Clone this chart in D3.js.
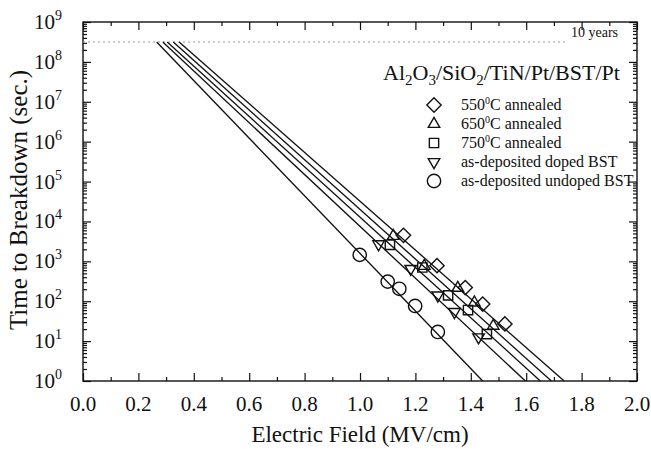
<!DOCTYPE html>
<meta charset="utf-8">
<style>
  body { margin: 0; background: #fff; }
  .axis path, .axis line { stroke: #111; stroke-width: 1.2; }
  .fit { fill: none; stroke: #111; stroke-width: 1.35; }
  .mark { fill: none; stroke: #111; stroke-width: 1.4; }
</style>
<body>
<svg id="chart" width="651" height="449" font-family="'Liberation Serif', 'Times New Roman', Tinos, Times, serif"></svg>
<script src="https://d3js.org/d3.v7.min.js"></script>
<script>

  // field values (MV/cm) and time to breakdown (sec.)
  const seriesNames = ['550', '650', '750', 'doped', 'undoped'];
  const legendLabels = ['550°C annealed', '650°C annealed', '750°C annealed', 'as-deposited doped BST', 'as-deposited undoped BST'];

  const field550 = [1.157, 1.278, 1.380, 1.443, 1.523];
  const time550 = [4500, 780, 220, 85, 27];
  const field650 = [1.120, 1.232, 1.353, 1.413, 1.481];
  const time650 = [4300, 760, 215, 92, 24];
  const field750 = [1.108, 1.225, 1.318, 1.390, 1.458];
  const time750 = [2600, 700, 140, 60, 15];
  const fieldDoped = [1.067, 1.183, 1.281, 1.341, 1.428];
  const timeDoped = [2700, 650, 140, 54, 12.5];
  const fieldUndoped = [0.999, 1.100, 1.142, 1.199, 1.281];
  const timeUndoped = [1450, 310, 205, 76, 17];

  // fitted lines: field where each one meets 10 years, and 1 second
  const fitField10y = [0.347, 0.326, 0.304, 0.288, 0.266];
  const fitField1s = [1.737, 1.691, 1.651, 1.597, 1.443];
  const tenYears = 3.1536e8;

  const xTicks = [0, 0.2, 0.4, 0.6, 0.8, 1.0, 1.2, 1.4, 1.6, 1.8, 2.0];
  const yExponents = [0, 1, 2, 3, 4, 5, 6, 7, 8, 9];

  const svg = d3.select('#chart');
  const plotLeft = 83, plotRight = 637, plotTop = 22, plotBottom = 381;

  const x = d3.scaleLinear().domain([0, 2]).range([plotLeft, plotRight]);
  const y = d3.scaleLog().domain([1, 1e9]).range([plotBottom, plotTop]);

  // minor ticks
  const xMinor = d3.range(0.1, 2, 0.2);
  const yMinor = [];
  yExponents.slice(0, -1).forEach(e => { for (let k = 2; k < 10; k++) yMinor.push(k * Math.pow(10, e)); });

  function addAxis(axis, transform) {
    svg.append('g').attr('class', 'axis').attr('transform', transform).call(axis)
      .call(g => g.select('.domain').remove())
      .call(g => g.selectAll('text').remove());
  }
  addAxis(d3.axisBottom(x).tickValues(xTicks).tickSize(-8), `translate(0,${plotBottom})`);
  addAxis(d3.axisBottom(x).tickValues(xMinor).tickSize(-4), `translate(0,${plotBottom})`);
  addAxis(d3.axisTop(x).tickValues(xTicks).tickSize(-8), `translate(0,${plotTop})`);
  addAxis(d3.axisTop(x).tickValues(xMinor).tickSize(-4), `translate(0,${plotTop})`);
  const yMajor = yExponents.map(e => Math.pow(10, e));
  addAxis(d3.axisLeft(y).tickValues(yMajor).tickSize(-8), `translate(${plotLeft},0)`);
  addAxis(d3.axisLeft(y).tickValues(yMinor).tickSize(-4), `translate(${plotLeft},0)`);
  addAxis(d3.axisRight(y).tickValues(yMajor).tickSize(-8), `translate(${plotRight},0)`);
  addAxis(d3.axisRight(y).tickValues(yMinor).tickSize(-4), `translate(${plotRight},0)`);

  svg.append('rect')
    .attr('x', plotLeft).attr('y', plotTop)
    .attr('width', plotRight - plotLeft).attr('height', plotBottom - plotTop)
    .attr('fill', 'none').attr('stroke', '#111').attr('stroke-width', 1.4);

  // tick labels
  svg.append('g').selectAll('text').data(xTicks).join('text')
    .attr('x', d => x(d)).attr('y', plotBottom + 30)
    .attr('text-anchor', 'middle').attr('font-size', 21).attr('fill', '#111')
    .text(d => d.toFixed(1));

  const yLab = svg.append('g').selectAll('text').data(yExponents).join('text')
    .attr('x', plotLeft - 21).attr('y', d => y(Math.pow(10, d)) + 7)
    .attr('text-anchor', 'end').attr('font-size', 21).attr('fill', '#111');
  yLab.append('tspan').text('10');
  yLab.append('tspan').attr('dy', -9).attr('font-size', 14).text(d => d);

  // axis titles
  svg.append('text')
    .attr('x', 360).attr('y', 442)
    .attr('text-anchor', 'middle').attr('font-size', 23).attr('fill', '#111')
    .text('Electric Field (MV/cm)');
  svg.append('text')
    .attr('transform', `translate(27,200) rotate(-90)`)
    .attr('text-anchor', 'middle').attr('font-size', 25).attr('fill', '#111')
    .text('Time to Breakdown (sec.)');

  // 10 years line
  svg.append('line')
    .attr('x1', plotLeft).attr('x2', 565)
    .attr('y1', y(tenYears)).attr('y2', y(tenYears))
    .attr('stroke', '#999').attr('stroke-width', 1.2).attr('stroke-dasharray', '2,3');
  svg.append('text')
    .attr('x', 618).attr('y', 37).attr('text-anchor', 'end').attr('font-size', 14).attr('fill', '#111')
    .text('10 years');

  // fitted lines
  svg.append('g').selectAll('line').data(seriesNames).join('line')
    .attr('class', 'fit')
    .attr('x1', (d, i) => x(fitField10y[i])).attr('y1', y(tenYears))
    .attr('x2', (d, i) => x(fitField1s[i])).attr('y2', y(1));

  const symbolTypes = [d3.symbolDiamond2, d3.symbolTriangle2, d3.symbolSquare2, 'down', d3.symbolCircle];
  const symbolSizes = [130, 95, 110, 95, 140];
  function symbolPath(i) {
    if (symbolTypes[i] === 'down') return d3.symbol(d3.symbolTriangle2, symbolSizes[i])();
    return d3.symbol(symbolTypes[i], symbolSizes[i])();
  }
  function symbolTransform(i, px, py) {
    let t = `translate(${px},${py})`;
    if (symbolTypes[i] === 'down') t += ' rotate(180)';
    return t;
  }

  const fields = [field550, field650, field750, fieldDoped, fieldUndoped];
  const times = [time550, time650, time750, timeDoped, timeUndoped];

  seriesNames.forEach((name, i) => {
    const pts = fields[i].map((f, j) => [f, times[i][j]]);
    svg.append('g').selectAll('path').data(pts).join('path')
      .attr('class', 'mark')
      .attr('d', symbolPath(i))
      .attr('transform', d => symbolTransform(i, x(d[0]), y(d[1])));
  });

  // legend
  const title = svg.append('text').attr('x', 383).attr('y', 80).attr('font-size', 22).attr('fill', '#111');
  [['Al', 0], ['2', 1], ['O', 0], ['3', 1], ['/SiO', 0], ['2', 1], ['/TiN/Pt/BST/Pt', 0]].forEach(([t, sub], k, arr) => {
    const prevSub = k > 0 ? arr[k - 1][1] : 0;
    title.append('tspan')
      .attr('dy', sub ? 5 : (prevSub ? -5 : 0))
      .attr('font-size', sub ? 15 : 22)
      .text(t);
  });

  const legendRows = [105, 124, 143, 162, 181];
  const legend = svg.append('g');
  legendLabels.forEach((label, i) => {
    legend.append('path').attr('class', 'mark')
      .attr('d', symbolPath(i))
      .attr('transform', symbolTransform(i, 434, legendRows[i]));
    const t = legend.append('text').attr('x', 461).attr('y', legendRows[i] + 5)
      .attr('font-size', 16).attr('fill', '#111');
    if (i < 3) {
      t.append('tspan').text(label.slice(0, 3));
      t.append('tspan').attr('dy', -6).attr('font-size', 10).text('0');
      t.append('tspan').attr('dy', 6).text('C annealed');
    } else {
      t.text(label);
    }
  });

</script>
</body>
